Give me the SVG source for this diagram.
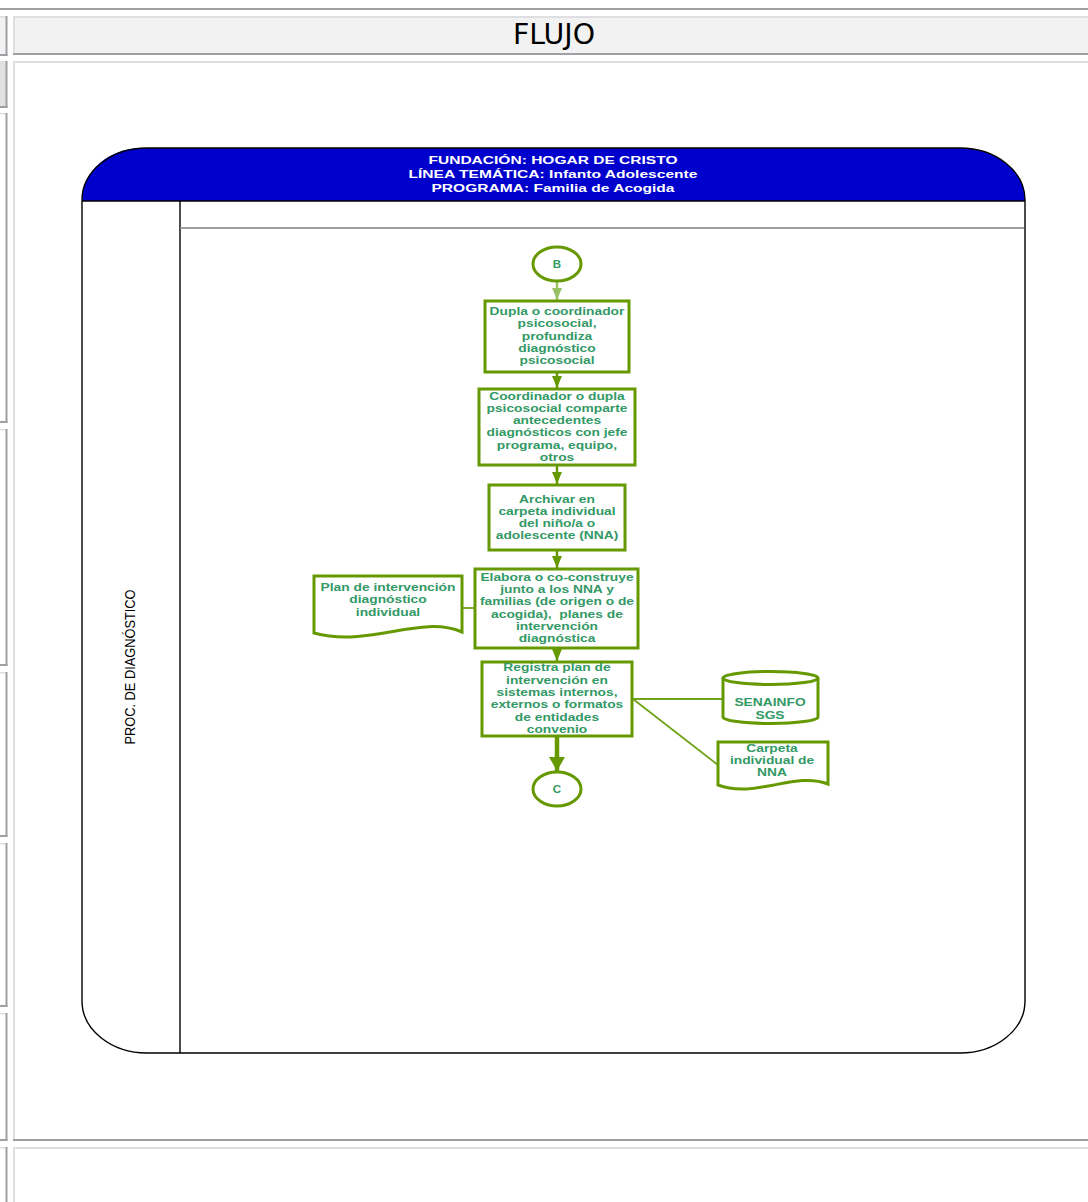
<svg xmlns="http://www.w3.org/2000/svg" width="1088" height="1202" viewBox="0 0 1088 1202">
<style>
.dark{fill:#a0a0a4}
.light{fill:#dfdfe3}
.box{fill:#ffffff;stroke:#669900;stroke-width:3}
.t{font-family:"Liberation Sans",Arial,sans-serif;font-weight:bold;font-size:11.5px;fill:#339966;text-anchor:middle}
.h{font-family:"Liberation Sans",Arial,sans-serif;font-weight:bold;font-size:11px;fill:#ffffff;text-anchor:middle}
.conn{stroke:#669900;stroke-width:2.5;fill:none}
.thin{stroke:#6fa31a;stroke-width:1.8;fill:none}
</style>
<defs>
<marker id="ah" markerUnits="userSpaceOnUse" viewBox="0 0 12 10" refX="12" refY="5" markerWidth="12" markerHeight="10" orient="auto">
<path d="M0,0 L12,5 L0,10 Z" fill="#669900"/>
</marker>
<marker id="ahL" markerUnits="userSpaceOnUse" viewBox="0 0 12 10" refX="12" refY="5" markerWidth="12" markerHeight="10" orient="auto">
<path d="M0,0 L12,5 L0,10 Z" fill="#99c266"/>
</marker>
<marker id="ahB" markerUnits="userSpaceOnUse" viewBox="0 0 14 16" refX="14" refY="8" markerWidth="14" markerHeight="16" orient="auto">
<path d="M0,0 L14,8 L0,16 Z" fill="#669900"/>
</marker>
</defs>
<rect x="0" y="0" width="1088" height="1202" fill="#ffffff"/>
<g id="page-frame">
<rect x="0" y="8" width="1088" height="2" class="dark"/>
<rect x="0" y="16" width="7" height="39" fill="#f2f2f2"/>
<rect x="0" y="61" width="7" height="46" fill="#e1e1e1"/>
<g>
<rect x="0" y="16" width="7" height="1.5" class="light"/><rect x="5.5" y="16" width="2" height="40" class="dark"/><rect x="0" y="54" width="7.5" height="2" class="dark"/>
<rect x="0" y="61" width="7" height="1.5" class="light"/><rect x="5.5" y="61" width="2" height="47" class="dark"/><rect x="0" y="106" width="7.5" height="2" class="dark"/>
<rect x="0" y="113" width="7" height="1.5" class="light"/><rect x="5.5" y="113" width="2" height="310" class="dark"/><rect x="0" y="421" width="7.5" height="2" class="dark"/>
<rect x="0" y="429" width="7" height="1.5" class="light"/><rect x="5.5" y="429" width="2" height="237" class="dark"/><rect x="0" y="664" width="7.5" height="2" class="dark"/>
<rect x="0" y="672" width="7" height="1.5" class="light"/><rect x="5.5" y="672" width="2" height="165" class="dark"/><rect x="0" y="835" width="7.5" height="2" class="dark"/>
<rect x="0" y="843" width="7" height="1.5" class="light"/><rect x="5.5" y="843" width="2" height="164" class="dark"/><rect x="0" y="1005" width="7.5" height="2" class="dark"/>
<rect x="0" y="1013" width="7" height="1.5" class="light"/><rect x="5.5" y="1013" width="2" height="128" class="dark"/><rect x="0" y="1139" width="7.5" height="2" class="dark"/>
<rect x="0" y="1147" width="7" height="1.5" class="light"/><rect x="5.5" y="1147" width="2" height="55" class="dark"/>
</g>
<rect x="13" y="16" width="1075" height="39" fill="#f2f2f2"/>
<rect x="13" y="16" width="1075" height="2" class="light"/><rect x="13" y="16" width="2" height="39" class="light"/><rect x="13" y="53" width="1075" height="2" class="dark"/>
<rect x="13" y="61" width="1075" height="2" class="light"/><rect x="13" y="61" width="2" height="1080" class="light"/><rect x="13" y="1139" width="1075" height="2" class="dark"/>
<rect x="13" y="1147" width="1075" height="2" class="light"/><rect x="13" y="1147" width="2" height="55" class="light"/>
<text x="554" y="44" font-family="DejaVu Sans Condensed, DejaVu Sans, sans-serif" font-size="28.5" text-anchor="middle" fill="#000000" textLength="82" lengthAdjust="spacingAndGlyphs">FLUJO</text>
</g>
<g id="pool">
<path d="M82,201 V200 A60,52 0 0 1 142,148 H960 A65,52 0 0 1 1025,200 V201 Z" fill="#0000cc"/>
<path d="M147,148 H960 A65,52 0 0 1 1025,200 V1001 A65,52 0 0 1 960,1053 H147 A65,52 0 0 1 82,1001 V200 A65,52 0 0 1 147,148 Z" fill="none" stroke="#000000" stroke-width="1.4"/>
<line x1="82" y1="201" x2="1025" y2="201" stroke="#000000" stroke-width="1.4"/>
<line x1="180" y1="201" x2="180" y2="1053" stroke="#000000" stroke-width="1.4"/>
<line x1="180" y1="228" x2="1024" y2="228" stroke="#7f7f7f" stroke-width="1.4"/>
<text class="h" x="553" y="164" textLength="249" lengthAdjust="spacingAndGlyphs">FUNDACIÓN: HOGAR DE CRISTO</text>
<text class="h" x="553" y="178" textLength="289" lengthAdjust="spacingAndGlyphs">LÍNEA TEMÁTICA: Infanto Adolescente</text>
<text class="h" x="553" y="192" textLength="243" lengthAdjust="spacingAndGlyphs">PROGRAMA: Familia de Acogida</text>
<text transform="translate(135,667) rotate(-90)" font-family="Liberation Sans, Arial, sans-serif" font-size="14" text-anchor="middle" fill="#000000" textLength="155" lengthAdjust="spacingAndGlyphs">PROC. DE DIAGNÓSTICO</text>
</g>
<g id="connectors">
<line x1="557" y1="282" x2="557" y2="300" stroke="#99c266" stroke-width="2.5" marker-end="url(#ahL)"/>
<line class="conn" x1="557" y1="372" x2="557" y2="388" marker-end="url(#ah)"/>
<line class="conn" x1="557" y1="466" x2="557" y2="484" marker-end="url(#ah)"/>
<line class="conn" x1="557" y1="551" x2="557" y2="568" marker-end="url(#ah)"/>
<line class="conn" x1="557" y1="649" x2="557" y2="661" marker-end="url(#ah)"/>
<line x1="557" y1="737" x2="557" y2="771" stroke="#669900" stroke-width="4.5" marker-end="url(#ahB)"/>
<line class="thin" x1="462" y1="608" x2="475" y2="608"/>
<line class="thin" x1="633" y1="699" x2="723" y2="699"/>
<line class="thin" x1="633" y1="699" x2="718" y2="765"/>
</g>
<g id="node-B">
<ellipse class="box" cx="557" cy="264" rx="24" ry="17"/>
<text class="t" x="557" y="268" font-size="10">B</text>
</g>
<g id="node-dupla">
<rect class="box" x="485" y="301" width="144" height="71"/>
<g transform="translate(557,0) scale(1.2,1)">
<text class="t" x="0" y="315">Dupla o coordinador</text>
<text class="t" x="0" y="327">psicosocial,</text>
<text class="t" x="0" y="340">profundiza</text>
<text class="t" x="0" y="352">diagnóstico</text>
<text class="t" x="0" y="364">psicosocial</text>
</g>
</g>
<g id="node-coordinador">
<rect class="box" x="479" y="389" width="156" height="76"/>
<g transform="translate(557,0) scale(1.2,1)">
<text class="t" x="0" y="400">Coordinador o dupla</text>
<text class="t" x="0" y="412">psicosocial comparte</text>
<text class="t" x="0" y="424">antecedentes</text>
<text class="t" x="0" y="436">diagnósticos con jefe</text>
<text class="t" x="0" y="449">programa, equipo,</text>
<text class="t" x="0" y="461">otros</text>
</g>
</g>
<g id="node-archivar">
<rect class="box" x="489" y="485" width="136" height="65"/>
<g transform="translate(557,0) scale(1.2,1)">
<text class="t" x="0" y="503">Archivar en</text>
<text class="t" x="0" y="515">carpeta individual</text>
<text class="t" x="0" y="527">del niño/a o</text>
<text class="t" x="0" y="539">adolescente (NNA)</text>
</g>
</g>
<g id="node-elabora">
<rect class="box" x="475" y="569" width="163" height="79"/>
<g transform="translate(557,0) scale(1.2,1)">
<text class="t" x="0" y="581">Elabora o co-construye</text>
<text class="t" x="0" y="593">junto a los NNA y</text>
<text class="t" x="0" y="605">familias (de origen o de</text>
<text class="t" x="0" y="618" xml:space="preserve">acogida),  planes de</text>
<text class="t" x="0" y="630">intervención</text>
<text class="t" x="0" y="642">diagnóstica</text>
</g>
</g>
<g id="node-plan-doc">
<path class="box" d="M314,576 H462 V632 C420,614 370,648 314,633 Z"/>
<g transform="translate(388,0) scale(1.2,1)">
<text class="t" x="0" y="591">Plan de intervención</text>
<text class="t" x="0" y="603">diagnóstico</text>
<text class="t" x="0" y="616">individual</text>
</g>
</g>
<g id="node-registra">
<rect class="box" x="482" y="662" width="150" height="74"/>
<g transform="translate(557,0) scale(1.2,1)">
<text class="t" x="0" y="671">Registra plan de</text>
<text class="t" x="0" y="684">intervención en</text>
<text class="t" x="0" y="696">sistemas internos,</text>
<text class="t" x="0" y="708">externos o formatos</text>
<text class="t" x="0" y="721">de entidades</text>
<text class="t" x="0" y="733">convenio</text>
</g>
</g>
<g id="node-senainfo">
<path class="box" d="M723,678 A47.5,6.5 0 0 1 818,678 V717 A47.5,6.5 0 0 1 723,717 Z"/>
<path d="M723,678 A47.5,6.5 0 0 0 818,678" fill="none" stroke="#669900" stroke-width="3"/>
<g transform="translate(770,0) scale(1.2,1)">
<text class="t" x="0" y="706">SENAINFO</text>
<text class="t" x="0" y="719">SGS</text>
</g>
</g>
<g id="node-carpeta-doc">
<path class="box" d="M718,742 H828 V784 C795,771 755,799 718,785 Z"/>
<g transform="translate(772,0) scale(1.2,1)">
<text class="t" x="0" y="752">Carpeta</text>
<text class="t" x="0" y="764">individual de</text>
<text class="t" x="0" y="776">NNA</text>
</g>
</g>
<g id="node-C">
<ellipse class="box" cx="557" cy="789" rx="24" ry="17"/>
<text class="t" x="557" y="793" font-size="10">C</text>
</g>
</svg>
